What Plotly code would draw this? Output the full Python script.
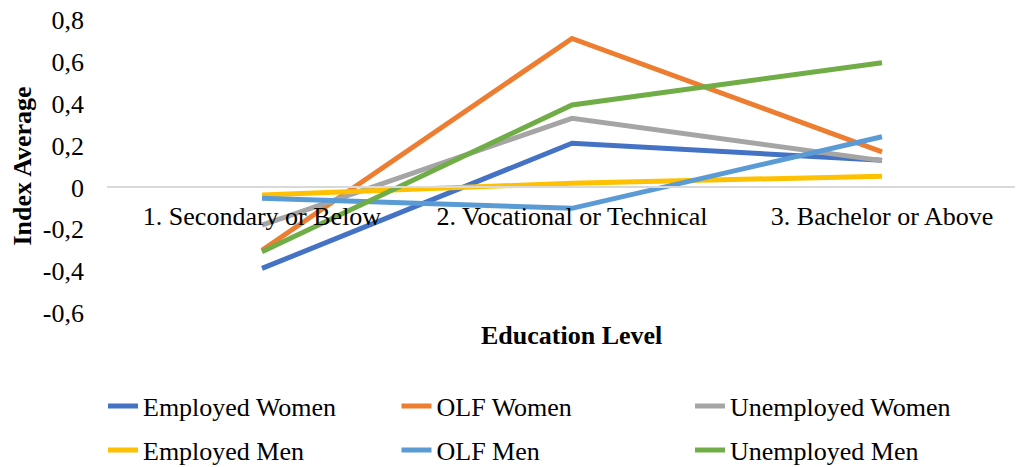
import plotly.graph_objects as go

categories = ["1. Secondary or Below", "2. Vocational or Technical", "3. Bachelor or Above"]

employed_women = [-0.387, 0.211, 0.130]
olf_women = [-0.300, 0.712, 0.170]
unemployed_women = [-0.180, 0.330, 0.128]
employed_men = [-0.036, 0.020, 0.054]
olf_men = [-0.052, -0.100, 0.242]
unemployed_men = [-0.307, 0.394, 0.596]

series_names = ["Employed Women", "OLF Women", "Unemployed Women",
                "Employed Men", "OLF Men", "Unemployed Men"]
series_values = [employed_women, olf_women, unemployed_women,
                 employed_men, olf_men, unemployed_men]
series_colors = ["#4472C4", "#ED7D31", "#A5A5A5", "#FFC000", "#5B9BD5", "#70AD47"]
series_legend_row = ["legend", "legend", "legend", "legend2", "legend2", "legend2"]

y_tick_vals = [-0.6, -0.4, -0.2, 0, 0.2, 0.4, 0.6, 0.8]
y_tick_text = ["-0,6", "-0,4", "-0,2", "0", "0,2", "0,4", "0,6", "0,8"]

FONT = "Liberation Serif, Times New Roman, serif"
W, H = 1026, 467

fig = go.Figure()
for name, vals, col, lg in zip(series_names, series_values, series_colors, series_legend_row):
    fig.add_trace(go.Scatter(
        x=list(range(len(categories))), y=vals, name=name, mode="lines",
        line=dict(color=col, width=5), legend=lg,
    ))

legend_common = dict(
    orientation="h", xref="container", yref="container",
    xanchor="left", yanchor="middle",
    entrywidth=248.5, entrywidthmode="pixels",
    font=dict(family=FONT, size=26, color="black"),
    bgcolor="rgba(0,0,0,0)",
)

fig.update_layout(
    width=W, height=H,
    margin=dict(l=107, r=11, t=20, b=154, autoexpand=False),
    paper_bgcolor="white", plot_bgcolor="white",
    font=dict(family=FONT, size=26, color="black"),
    showlegend=True,
    legend=dict(x=103 / W, y=1 - 406 / H, **legend_common),
    legend2=dict(x=103 / W, y=1 - 450 / H, **legend_common),
    xaxis=dict(
        range=[-0.5, 2.429],
        tickmode="array", tickvals=list(range(len(categories))), ticktext=categories,
        showgrid=False, zeroline=False,
        showline=True, linecolor="#D9D9D9", linewidth=1.5,
        anchor="free", position=0.6 / 1.4,
        ticks="", ticklabelstandoff=6, ticklabeloverflow="allow",
        tickfont=dict(family=FONT, size=26, color="black"),
    ),
    yaxis=dict(
        range=[-0.6, 0.8],
        tickmode="array", tickvals=y_tick_vals, ticktext=y_tick_text,
        showgrid=False, zeroline=False, showline=False,
        ticks="", ticklabelstandoff=22, ticklabeloverflow="allow",
        tickfont=dict(family=FONT, size=26, color="black"),
    ),
    annotations=[
        dict(text="<b>Index Average</b>", textangle=-90,
             xref="paper", yref="paper", x=-85 / 908, y=0.5,
             xanchor="center", yanchor="middle", showarrow=False,
             font=dict(family=FONT, size=26, color="black")),
        dict(text="<b>Education Level</b>",
             xref="paper", yref="paper", x=(571 - 107) / 908, y=(313 - 335) / 293,
             xanchor="center", yanchor="middle", showarrow=False,
             font=dict(family=FONT, size=26, color="black")),
    ],
)

fig.write_html(
    "out.html",
    config={"displayModeBar": False},
    post_script="document.body.style.margin='0';document.body.style.overflow='hidden';",
)
